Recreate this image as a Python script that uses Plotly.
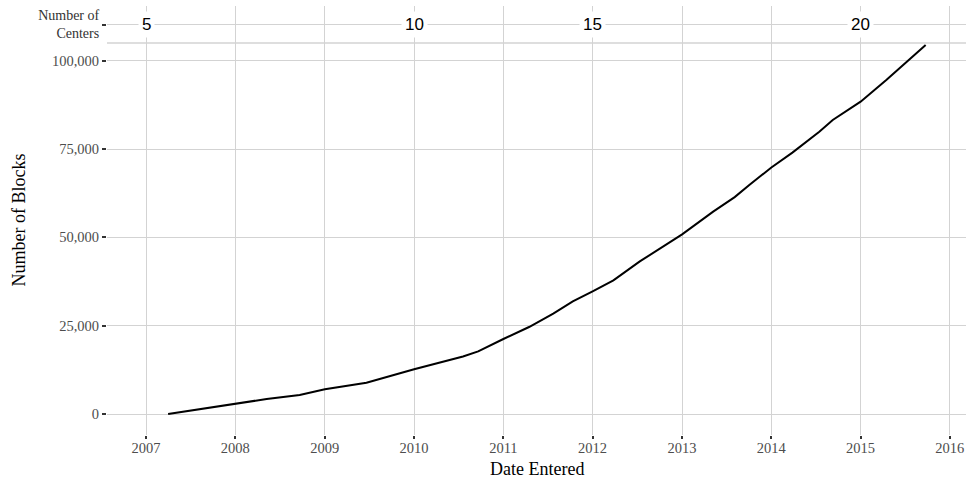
import plotly.graph_objects as go

# Data
dates = ["2007-04-01", "2007-09-05", "2008-01-01", "2008-05-08", "2008-09-20",
         "2009-01-01", "2009-06-20", "2010-01-01", "2010-07-20", "2010-09-20",
         "2011-01-01", "2011-04-16", "2011-07-24", "2011-10-12", "2012-01-01",
         "2012-03-26", "2012-07-12", "2012-10-01", "2013-01-01", "2013-05-08",
         "2013-08-04", "2013-10-04", "2014-01-01", "2014-03-28", "2014-07-16",
         "2014-09-09", "2015-01-01", "2015-04-16", "2015-09-24"]
blocks = [0, 1600, 2830, 4250, 5380,
          7000, 8860, 12650, 16300, 17720,
          21230, 24630, 28400, 31880, 34710,
          37830, 43200, 46850, 50850, 57280,
          61400, 64900, 69800, 74000, 79920,
          83240, 88420, 94560, 104470]

center_dates = ["2007-01-01", "2010-01-01", "2012-01-01", "2015-01-01"]
center_counts = [5, 10, 15, 20]

year_ticks = [f"{y}-01-01" for y in range(2007, 2017)]
year_labels = [str(y) for y in range(2007, 2017)]
block_ticks = [0, 25000, 50000, 75000, 100000]
block_labels = ["0", "25,000", "50,000", "75,000", "100,000"]

GRID = "#d3d3d3"
TICKC = "#333333"
SERIF = "Liberation Serif"

fig = go.Figure()
fig.add_trace(go.Scatter(x=dates, y=blocks, mode="lines",
                         line=dict(color="black", width=2),
                         xaxis="x", yaxis="y", showlegend=False,
                         hoverinfo="x+y"))
# invisible trace so strip axes are active
fig.add_trace(go.Scatter(x=center_dates, y=[0] * len(center_dates), mode="markers",
                         marker=dict(opacity=0), xaxis="x2", yaxis="y2",
                         showlegend=False, hoverinfo="skip"))

split = (435 - 43) / 429.0

annotations = []
for d, c in zip(center_dates, center_counts):
    annotations.append(dict(x=d, y=0, xref="x2", yref="y2", text=str(c),
                            showarrow=False, bgcolor="white", borderpad=3,
                            font=dict(family="Liberation Sans", size=17, color="black")))
annotations.append(dict(x=(18 - 107) / 859.0, y=0.5, xref="paper", yref="paper",
                        text="Number of Blocks", textangle=-90, showarrow=False,
                        xanchor="center", yanchor="middle",
                        font=dict(family=SERIF, size=18, color="black")))
annotations.append(dict(x=0.5, y=-(469 - 435) / 429.0, xref="paper", yref="paper",
                        text="Date Entered", showarrow=False,
                        xanchor="center", yanchor="middle",
                        font=dict(family=SERIF, size=18, color="black")))

fig.update_layout(
    width=968, height=480,
    margin=dict(l=107, r=2, t=6, b=45, autoexpand=False),
    paper_bgcolor="white", plot_bgcolor="white",
    font=dict(family=SERIF, size=14.5, color="#4d4d4d"),
    xaxis=dict(type="date", range=["2006-07-25", "2016-03-07"],
               tickvals=year_ticks, ticktext=year_labels,
               showgrid=True, gridcolor=GRID, gridwidth=1.3,
               zeroline=False, showline=False, automargin=False,
               ticks="outside", ticklen=3, tickwidth=2, tickcolor=TICKC,
               ticklabelstandoff=-3,
               tickfont=dict(family=SERIF, size=14.5, color="#4d4d4d"),
               anchor="y", domain=[0, 1]),
    yaxis=dict(range=[-5945, 105040], domain=[0, split],
               tickvals=block_ticks, ticktext=block_labels,
               showgrid=True, gridcolor=GRID, gridwidth=1.3,
               zeroline=False, showline=False, automargin=False,
               ticks="outside", ticklen=4, tickwidth=2, tickcolor=TICKC,
               tickfont=dict(family=SERIF, size=14.5, color="#4d4d4d"),
               anchor="x"),
    xaxis2=dict(matches="x", anchor="y2", showticklabels=False,
                tickvals=year_ticks, showgrid=True, gridcolor=GRID, gridwidth=1.3,
                zeroline=False, showline=False, ticks="", automargin=False),
    yaxis2=dict(range=[-1, 1], domain=[split, 1], tickvals=[0],
                ticktext=["Number of<br>Centers"],
                showgrid=True, gridcolor=GRID, gridwidth=1.3,
                zeroline=False, showline=False, automargin=False,
                ticks="outside", ticklen=4, tickwidth=2, tickcolor=TICKC,
                tickfont=dict(family=SERIF, size=14, color="#333333"),
                anchor="x2"),
    annotations=annotations,
    shapes=[dict(type="line", xref="paper", yref="paper", x0=0, x1=1,
                 y0=split, y1=split, line=dict(color=GRID, width=1.3), layer="below")],
)

fig.write_html("out.html", config={"displayModeBar": False},
               post_script="document.body.style.margin='0';document.body.style.overflow='hidden';")
